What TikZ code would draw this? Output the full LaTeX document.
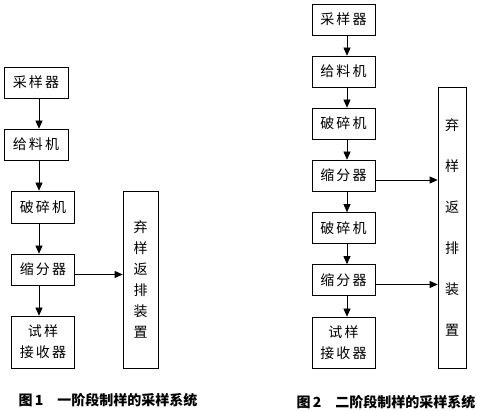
\documentclass[tikz,border=0pt]{standalone}
\usepackage{fontspec}
\newfontfamily\cjk{Noto Sans CJK SC}
\usetikzlibrary{arrows.meta}
\tikzset{
  unit/.style={draw,line width=0.7pt,inner sep=0pt,minimum width=63pt,minimum height=31pt,align=center,
    font=\cjk\fontsize{14}{21}\selectfont\addfontfeature{LetterSpace=16}},
  flow/.style={line width=0.7pt,-{Triangle[length=8pt,width=7pt]}},
  caption/.style={font=\cjk\bfseries\fontsize{14}{16}\selectfont}
}
\begin{document}
\begin{tikzpicture}[x=1pt,y=-1pt]
  \useasboundingbox (0,0) rectangle (477,411);
  % figure 1: one preparation stage
  \begin{scope}
    \node[unit,minimum width=64pt] (s1) at (36,82.5) {采样器};
    \node[unit,minimum width=64pt] (f1) at (36,144.5) {给料机};
    \node[unit,minimum height=32pt] (c1) at (43,207) {破碎机};
    \node[unit] (d1) at (43,269.5) {缩分器};
    \node[unit,minimum height=52pt] (r1) at (43,342) {试样\\接收器};
    \node[unit,minimum width=35pt,minimum height=177pt] (q1) at (140.5,279.5) {弃\\样\\返\\排\\装\\置};
    \coordinate (ax1) at (39,0);
    \foreach \a/\b in {s1/f1,f1/c1,c1/d1,d1/r1}
      \draw[flow] (\a.south -| ax1) -- (\b.north -| ax1);
    \draw[flow] ([yshift=-5pt]d1.east) -- ([yshift=-5pt]d1.east -| q1.west);
    \node[caption] (t1) at (108,400) {图\,1\hspace{14pt}一阶段制样的采样系统};
  \end{scope}
  % figure 2: two preparation stages
  \begin{scope}
    \node[unit] (s2) at (343.5,19.5) {采样器};
    \node[unit] (f2) at (343.5,71.5) {给料机};
    \node[unit] (c2) at (343.5,123.5) {破碎机};
    \node[unit] (d2) at (343.5,175.5) {缩分器};
    \node[unit] (c3) at (343.5,228) {破碎机};
    \node[unit] (d3) at (343.5,280) {缩分器};
    \node[unit,minimum height=51pt] (r2) at (343.5,342.5) {试样\\接收器};
    \node[unit,minimum width=28pt,minimum height=281pt,font=\cjk\fontsize{14}{41}\selectfont] (q2) at (452,227.5) {弃\\样\\返\\排\\装\\置};
    \coordinate (ax2) at (347,0);
    \foreach \a/\b in {s2/f2,f2/c2,c2/d2,d2/c3,c3/d3,d3/r2}
      \draw[flow] (\a.south -| ax2) -- (\b.north -| ax2);
    \foreach \d in {d2,d3}
      \draw[flow] ([yshift=-4.5pt]\d.east) -- ([yshift=-4.5pt]\d.east -| q2.west);
    \node[caption] (t2) at (386,402) {图\,2\hspace{14pt}二阶段制样的采样系统};
  \end{scope}
\end{tikzpicture}
\end{document}
